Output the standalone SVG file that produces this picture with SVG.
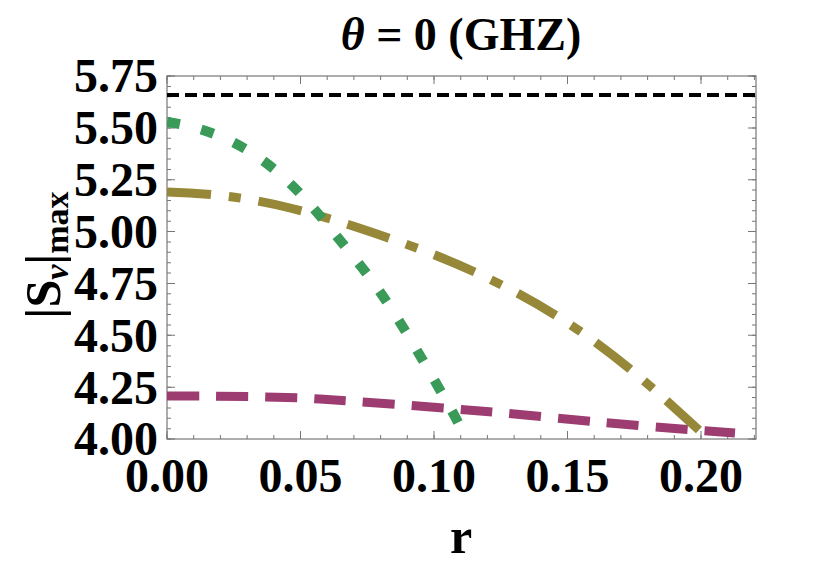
<svg xmlns="http://www.w3.org/2000/svg" width="830" height="571" viewBox="0 0 830 571">
<style>
.t{font-family:"Liberation Serif",serif;font-weight:bold;fill:#000}
.tk{stroke:#777;fill:none}
</style>
<defs><clipPath id="c"><rect x="167" y="76" width="589" height="363"/></clipPath></defs>
<rect width="830" height="571" fill="#fff"/>
<g id="frame">
<rect x="167" y="76" width="589" height="363" fill="none" stroke="#777" stroke-width="1.2"/>
<line class="tk" x1="166.5" y1="437" x2="756" y2="437" stroke-width="4" stroke-dasharray="1 25.7"/>
<line class="tk" x1="166.5" y1="435" x2="756" y2="435" stroke-width="8" stroke-dasharray="1 132.5"/>
<line class="tk" x1="166.5" y1="78" x2="756" y2="78" stroke-width="4" stroke-dasharray="1 25.7"/>
<line class="tk" x1="166.5" y1="80" x2="756" y2="80" stroke-width="8" stroke-dasharray="1 132.5"/>
<line class="tk" x1="169" y1="439.5" x2="169" y2="75" stroke-width="4" stroke-dasharray="1 9.37"/>
<line class="tk" x1="171" y1="439.5" x2="171" y2="75" stroke-width="8" stroke-dasharray="1 50.85"/>
<line class="tk" x1="754" y1="439.5" x2="754" y2="75" stroke-width="4" stroke-dasharray="1 9.37"/>
<line class="tk" x1="752" y1="439.5" x2="752" y2="75" stroke-width="8" stroke-dasharray="1 50.85"/>
</g>
<g id="curves" clip-path="url(#c)" fill="none">
<line x1="167" y1="95" x2="756" y2="95" stroke="#000" stroke-width="4" stroke-dasharray="12 6"/>
<path d="M167,396 C230,396 290,397 320,399 S420,406 480,411 S620,425 735,433" stroke="#9c3c70" stroke-width="9" stroke-dasharray="32 17"/>
<path d="M167,192 C210,193 250,198 290,208 S360,228 400,242 S500,280 560,318 S660,395 710,440" stroke="#968838" stroke-width="9" stroke-dasharray="44 18 12 18"/>
<path d="M167,122 C210,128 245,145 275,170 S325,222 356,260 S410,338 440,390 S455,420 462,432" stroke="#3a9a58" stroke-width="10" stroke-dasharray="13 22"/>
</g>
<g id="labels" class="t" font-size="48">
<g text-anchor="end">
<text x="158" y="92">5.75</text>
<text x="158" y="144">5.50</text>
<text x="158" y="196">5.25</text>
<text x="158" y="248">5.00</text>
<text x="158" y="300">4.75</text>
<text x="158" y="352">4.50</text>
<text x="158" y="404">4.25</text>
<text x="158" y="455">4.00</text>
</g>
<g text-anchor="middle">
<text x="167" y="492">0.00</text>
<text x="300.5" y="492">0.05</text>
<text x="434" y="492">0.10</text>
<text x="567.5" y="492">0.15</text>
<text x="701" y="492">0.20</text>
<text x="461" y="553" font-size="50">r</text>
<text x="461" y="50" font-size="46"><tspan font-style="italic">θ</tspan> = 0 (GHZ)</text>
<text transform="translate(60,255) rotate(-90)" font-size="50">|S<tspan font-style="italic" font-size="34" dy="8">v</tspan><tspan dy="-8">|</tspan><tspan font-size="34" dy="8">max</tspan></text>
</g>
</g>
</svg>
